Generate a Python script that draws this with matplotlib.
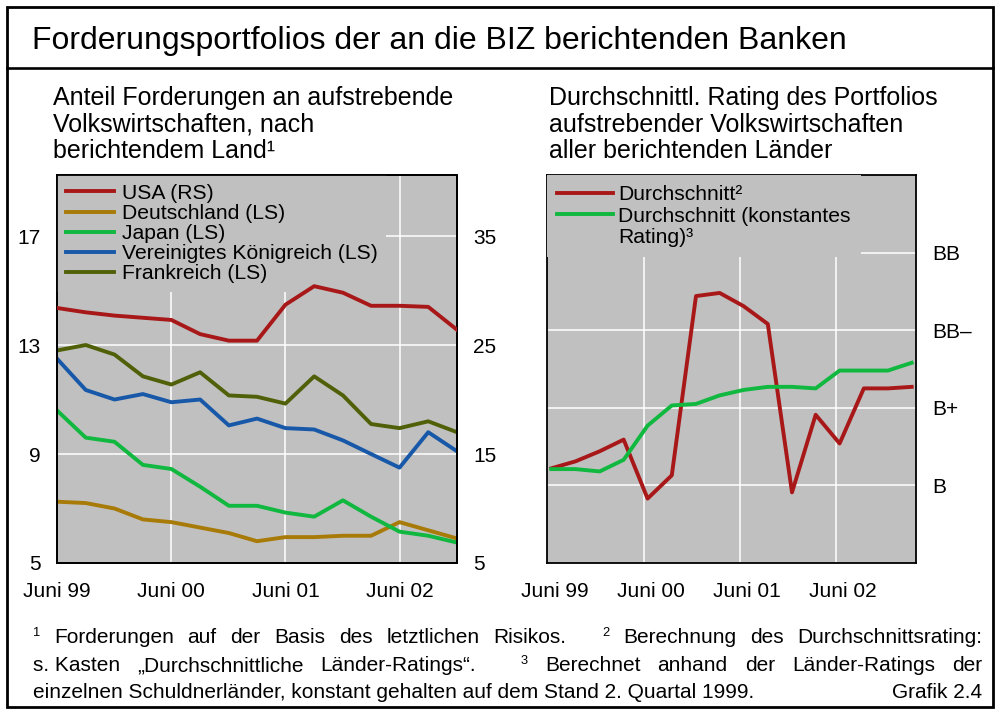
import numpy as np
import pandas as pd
import matplotlib
matplotlib.use("Agg")
import matplotlib.pyplot as plt
from matplotlib.lines import Line2D
from matplotlib.patches import Rectangle

plt.rcParams['font.family'] = ['Liberation Sans', 'DejaVu Sans']

# ---------------- data ----------------
left_quarters = ['1999-06-30', '1999-09-30', '1999-12-31', '2000-03-31', '2000-06-30',
                 '2000-09-30', '2000-12-31', '2001-03-31', '2001-06-30', '2001-09-30',
                 '2001-12-31', '2002-03-31', '2002-06-30', '2002-09-30', '2002-12-31']
usa = [28.4, 28.0, 27.7, 27.5, 27.3, 26.0, 25.4, 25.4, 28.7, 30.4, 29.8, 28.6, 28.6, 28.5, 26.4]
deutschland = [7.25, 7.2, 7.0, 6.6, 6.5, 6.3, 6.1, 5.8, 5.95, 5.95, 6.0, 6.0, 6.5, 6.2, 5.9]
japan = [10.6, 9.6, 9.45, 8.6, 8.45, 7.8, 7.1, 7.1, 6.85, 6.7, 7.3, 6.7, 6.15, 6.0, 5.75]
uk = [12.5, 11.35, 11.0, 11.2, 10.9, 11.0, 10.05, 10.3, 9.95, 9.9, 9.5, 9.0, 8.5, 9.8, 9.1]
france = [12.8, 13.0, 12.65, 11.85, 11.55, 12.0, 11.15, 11.1, 10.85, 11.85, 11.15, 10.1, 9.95, 10.2, 9.8]

right_quarters = left_quarters + ['2003-03-31']
rating_avg = [0.22, 0.31, 0.44, 0.59, -0.17, 0.13, 2.44, 2.48, 2.31, 2.08, -0.09, 0.91, 0.54, 1.25, 1.25, 1.27]
rating_const = [0.21, 0.21, 0.18, 0.33, 0.77, 1.03, 1.05, 1.16, 1.23, 1.27, 1.27, 1.25, 1.48, 1.48, 1.48, 1.58]

left_ticks = [5, 9, 13, 17]
right_ticks = [5, 15, 25, 35]
rating_ticks = [0, 1, 2, 3]
rating_labels = ['B', 'B+', 'BB\u2013', 'BB']
year_ticks = ['1999-06-30', '2000-06-30', '2001-06-30', '2002-06-30']
year_labels = ['Juni 99', 'Juni 00', 'Juni 01', 'Juni 02']

labels_left = ['USA (RS)', 'Deutschland (LS)', 'Japan (LS)',
               'Vereinigtes K\u00f6nigreich (LS)', 'Frankreich (LS)']
labels_right = ['Durchschnitt\u00b2', 'Durchschnitt (konstantes', 'Rating)\u00b3']

title = 'Forderungsportfolios der an die BIZ berichtenden Banken'
sub_left = ['Anteil Forderungen an aufstrebende', 'Volkswirtschaften, nach',
            'berichtendem Land\u00b9']
sub_right = ['Durchschnittl. Rating des Portfolios', 'aufstrebender Volkswirtschaften',
             'aller berichtenden L\u00e4nder']

# ---------------- styles ----------------
C_RED = '#a81818'
C_OCHRE = '#a87a08'
C_GREEN = '#10b840'
C_BLUE = '#1858a8'
C_OLIVE = '#506008'
BG = '#c0c0c0'
LW = 2.8

W, H = 998, 713


def fx(x):
    return x / W


def fy(y):
    return 1 - y / H


fig = plt.figure(figsize=(W / 100, H / 100), dpi=100)
fig.patch.set_facecolor('white')

# frame
fig.add_artist(Rectangle((fx(7), fy(707)), fx(993) - fx(7), fy(7) - fy(707),
                         transform=fig.transFigure, fill=False, lw=2.0, ec='black'))
fig.add_artist(Line2D([fx(7), fx(993)], [fy(68), fy(68)], transform=fig.transFigure,
                      lw=1.9, color='black'))

fig.text(fx(32), fy(49), title, fontsize=23, va='baseline', ha='left')
for i, s in enumerate(sub_left):
    fig.text(fx(53), fy(105 + 26.5 * i), s, fontsize=18, va='baseline', ha='left')
for i, s in enumerate(sub_right):
    fig.text(fx(549), fy(105 + 26.5 * i), s, fontsize=18, va='baseline', ha='left')

ld = pd.to_datetime(left_quarters)
rd = pd.to_datetime(right_quarters)
yt = pd.to_datetime(year_ticks)

TICKFS = 15
LEGFS = 15.2

# ---------------- left panel ----------------
ax1 = fig.add_axes([fx(57), fy(563), 400 / W, 388 / H])
ax1.set_facecolor(BG)
ax1r = ax1.twinx()
ymax_l = 19.24
ax1.set_ylim(5, ymax_l)
ax1r.set_ylim(5, 5 + (ymax_l - 5) * 2.5)
ax1.set_xlim(ld[0], ld[-1])

l_de, = ax1.plot(ld, deutschland, color=C_OCHRE, lw=LW)
l_jp, = ax1.plot(ld, japan, color=C_GREEN, lw=LW)
l_uk, = ax1.plot(ld, uk, color=C_BLUE, lw=LW)
l_fr, = ax1.plot(ld, france, color=C_OLIVE, lw=LW)
l_us, = ax1r.plot(ld, usa, color=C_RED, lw=LW, zorder=3)

ax1.set_yticks(left_ticks)
ax1r.set_yticks(right_ticks)
ax1.set_xticks(yt)
ax1.set_xticklabels(year_labels)
ax1.grid(True, color='white', lw=1.1)
ax1.set_axisbelow(True)
ax1.tick_params(axis='y', length=0, pad=12, labelsize=TICKFS)
ax1r.tick_params(axis='y', length=0, pad=11.5, labelsize=TICKFS)
ax1.tick_params(axis='x', length=0, pad=13.5, labelsize=TICKFS)
for a in (ax1, ax1r):
    for sp in a.spines.values():
        sp.set_linewidth(1.3)
        sp.set_color('black')

leg = ax1r.legend([l_us, l_de, l_jp, l_uk, l_fr], labels_left, loc='upper left',
                  bbox_to_anchor=(0, 1), borderaxespad=0, borderpad=0.42,
                  labelspacing=0.05, handlelength=2.3, handletextpad=0.34,
                  frameon=True, facecolor=BG, edgecolor='none', framealpha=1,
                  fancybox=False, fontsize=LEGFS)
leg.get_frame().set_linewidth(0)
leg.set_zorder(1.5)

# ---------------- right panel ----------------
ax2 = fig.add_axes([fx(547), fy(563), 369 / W, 388 / H])
ax2.set_facecolor(BG)
qd = pd.Timedelta(days=91.3)
ax2.set_xlim(rd[0] - 0.18 * qd, rd[-1] + 0.18 * qd)
ax2.set_ylim(-1, 4)
r1, = ax2.plot(rd, rating_avg, color=C_RED, lw=LW)
r2, = ax2.plot(rd, rating_const, color=C_GREEN, lw=LW)
ax2.yaxis.tick_right()
ax2.set_yticks(rating_ticks)
ax2.set_yticklabels(rating_labels)
ax2.set_xticks(yt + 0.15 * qd)
ax2.set_xticklabels(year_labels)
ax2.set_xticks(yt[1:] - 0.16 * qd, minor=True)
ax2.grid(True, axis='y', color='white', lw=1.1)
ax2.grid(True, axis='x', which='minor', color='white', lw=1.1)
ax2.set_axisbelow(True)
ax2.tick_params(axis='y', length=0, pad=11.5, labelsize=TICKFS)
ax2.tick_params(axis='x', which='both', length=0, pad=13.5, labelsize=TICKFS)
for sp in ax2.spines.values():
    sp.set_linewidth(1.3)
    sp.set_color('black')

blank = Line2D([], [], color='none')
leg2 = ax2.legend([r1, r2, blank], labels_right, loc='upper left', bbox_to_anchor=(0, 1),
                  borderaxespad=0, borderpad=0.48, labelspacing=0.12,
                  handlelength=2.65, handletextpad=0.24, frameon=True, facecolor=BG,
                  edgecolor='none', framealpha=1, fancybox=False, fontsize=LEGFS)
leg2.get_frame().set_linewidth(0)

# ---------------- footnotes ----------------
FNFS = 15
renderer = fig.canvas.get_renderer()


def justified(tokens, x0, x1, ybase):
    # tokens: (text, superscript?, gap weight before)
    objs = []
    total = 0.0
    for text, sup, wgt in tokens:
        fs = FNFS * 0.62 if sup else FNFS
        t = fig.text(0, 0, text, fontsize=fs, va='baseline', ha='left')
        w = t.get_window_extent(renderer).width
        objs.append((t, w, sup, wgt))
        total += w
    wsum = sum(o[3] for o in objs[1:])
    gap = ((x1 - x0) - total) / wsum
    x = x0
    for i, (t, w, sup, wgt) in enumerate(objs):
        if i > 0:
            x += gap * wgt
        t.set_position((fx(x), fy(ybase - (7 if sup else 0))))
        x += w


line1 = [('1', True, 0), ('Forderungen', False, 1), ('auf', False, 1), ('der', False, 1),
         ('Basis', False, 1), ('des', False, 1), ('letztlichen', False, 1),
         ('Risikos.', False, 1), ('2', True, 2.6), ('Berechnung', False, 1),
         ('des', False, 1), ('Durchschnittsrating:', False, 1)]
line2 = [('s. Kasten', False, 0), ('\u201eDurchschnittliche', False, 1),
         ('L\u00e4nder-Ratings\u201c.', False, 1), ('3', True, 2.6), ('Berechnet', False, 1),
         ('anhand', False, 1), ('der', False, 1), ('L\u00e4nder-Ratings', False, 1),
         ('der', False, 1)]
justified(line1, 33, 982, 643)
justified(line2, 33, 982, 671)
fig.text(fx(33), fy(698), 'einzelnen Schuldnerl\u00e4nder, konstant gehalten auf dem Stand 2. Quartal 1999.',
         fontsize=FNFS, va='baseline', ha='left')
fig.text(fx(982), fy(698), 'Grafik 2.4', fontsize=FNFS, va='baseline', ha='right')

fig.savefig('out.png', dpi=100)
